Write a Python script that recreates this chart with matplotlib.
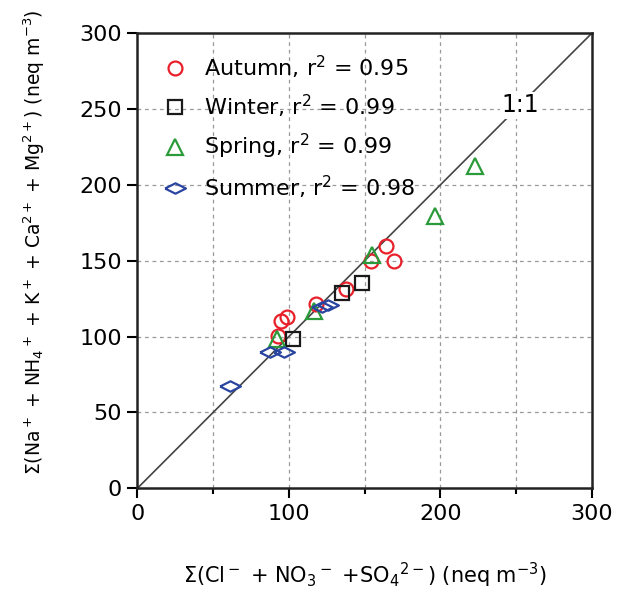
import numpy as np
import matplotlib.pyplot as plt

# seasonal data: anions (x) vs cations (y), neq m-3
autumn_x = [93, 95, 99, 118, 137.6, 154, 164, 169.3]
autumn_y = [100.6, 110, 113, 121.7, 131.6, 150, 160, 150]
winter_x = [103, 135.4, 148]
winter_y = [98.7, 129, 135.5]
spring_x = [92, 116.5, 154.6, 196.4, 223]
spring_y = [98.5, 117, 153.6, 179.7, 212.8]
summer_x = [61, 87.5, 97, 121.6, 126]
summer_y = [67.5, 90, 90, 119.6, 121]

labels = ['Autumn, r$^2$ = 0.95', 'Winter, r$^2$ = 0.99',
          'Spring, r$^2$ = 0.99', 'Summer, r$^2$ = 0.98']

plt.rcParams['font.family'] = ['DejaVu Sans']
plt.rcParams['mathtext.default'] = 'regular'

fig = plt.figure(figsize=(6.19, 5.94), dpi=100)
ax = fig.add_axes([0.222, 0.178, 0.734, 0.766])

# flat diamond marker
flat_diamond = [(-1, 0), (0, 0.5), (1, 0), (0, -0.5), (-1, 0)]

ax.plot([0, 300], [0, 300], color='#444444', lw=1.2, zorder=2)

kw = dict(linestyle='none', mfc='none', mew=1.6, zorder=3)
ax.plot(autumn_x, autumn_y, marker='o', ms=10, mec='#e8202a', label=labels[0], **kw)
ax.plot(winter_x, winter_y, marker='s', ms=10, mec='#1a1a1a', label=labels[1], **kw)
ax.plot(spring_x, spring_y, marker='^', ms=11, mec='#2a9a3a', label=labels[2], **kw)
ax.plot(summer_x, summer_y, marker=flat_diamond, ms=15, mec='#2a45a0', label=labels[3], **kw)

ax.text(252.5, 252.5, '1:1', fontsize=17, ha='center', va='center',
        bbox=dict(facecolor='white', edgecolor='none', pad=1), zorder=2.5)

ax.set_xlim(0, 300)
ax.set_ylim(0, 300)
ax.set_xticks([0, 100, 200, 300])
ax.set_xticks([50, 150, 250], minor=True)
ax.set_yticks(np.arange(0, 301, 50))

for v in [50, 100, 150, 200, 250]:
    ax.axvline(v, color='#999999', ls=(0, (3, 3)), lw=0.9, zorder=1)
    ax.axhline(v, color='#999999', ls=(0, (3, 3)), lw=0.9, zorder=1)

for s in ax.spines.values():
    s.set_linewidth(1.8)
    s.set_color('#222222')

ax.tick_params(axis='both', which='major', direction='out', length=7, width=1.5,
               labelsize=16, pad=4)
ax.tick_params(axis='x', which='minor', direction='out', length=4, width=1.5)

ax.set_xlabel(r'$\Sigma$(Cl$^-$ + NO$_3$$^-$ +SO$_4$$^{2-}$) (neq m$^{-3}$)',
              fontsize=15, labelpad=27)
ax.set_ylabel(r'$\Sigma$(Na$^+$ + NH$_4$$^+$ + K$^+$ + Ca$^{2+}$ + Mg$^{2+}$) (neq m$^{-3}$)',
              fontsize=13.5)
ax.yaxis.set_label_coords(-0.2, 0.54)

ax.legend(loc='upper left', frameon=False, fontsize=16, handletextpad=0.7,
          borderaxespad=0.3, labelspacing=0.55, handlelength=1.2,
          bbox_to_anchor=(0.02, 0.99))

fig.savefig('out.png', dpi=100)
